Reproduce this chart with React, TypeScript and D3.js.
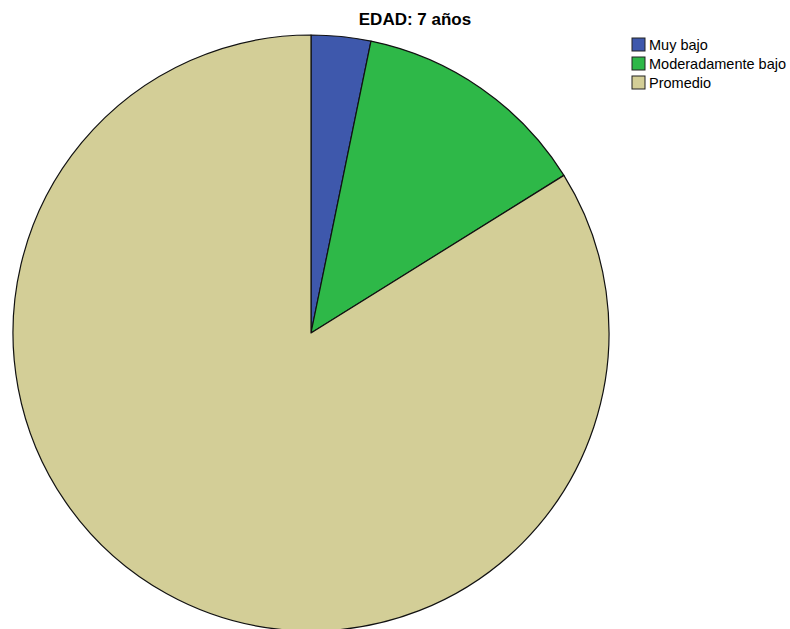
import React from "react";
import * as d3 from "d3";

const categories = ["Muy bajo", "Moderadamente bajo", "Promedio"];
const values = [1, 4, 26];
const colors = ["#3E58AC", "#2EB848", "#D3CE97"];
const title = "EDAD: 7 años";

export default function App() {
  const width = 790;
  const height = 629;
  const cx = 311;
  const cy = 333;
  const r = 298;
  const pie = d3.pie<number>().sort(null).value((d) => d)(values);
  const arc = d3.arc<d3.PieArcDatum<number>>().innerRadius(0).outerRadius(r);
  return (
    <svg
      width={width}
      height={height}
      style={{ position: "absolute", left: 0, top: 0, background: "#fff" }}
    >
      <text
        x={415}
        y={25}
        textAnchor="middle"
        fontFamily="'Liberation Sans Narrow', 'Arial Narrow', 'Liberation Sans', sans-serif"
        fontWeight="bold"
        fontSize={17}
        fill="#000"
      >
        {title}
      </text>
      <g transform={`translate(${cx},${cy})`}>
        {pie.map((p, i) => (
          <path
            key={i}
            d={arc(p) || ""}
            fill={colors[i]}
            stroke="#111"
            strokeWidth={1.2}
            strokeLinejoin="round"
          />
        ))}
      </g>
      <g>
        {categories.map((c, i) => (
          <g key={c} transform={`translate(632,${38 + i * 19})`}>
            <rect
              x={0}
              y={0}
              width={13}
              height={13}
              fill={colors[i]}
              stroke="#222"
              strokeWidth={1}
            />
            <text
              x={17}
              y={11.5}
              fontFamily="'Liberation Sans', Arial, sans-serif"
              fontSize={14.5}
              fill="#000"
            >
              {c}
            </text>
          </g>
        ))}
      </g>
    </svg>
  );
}
